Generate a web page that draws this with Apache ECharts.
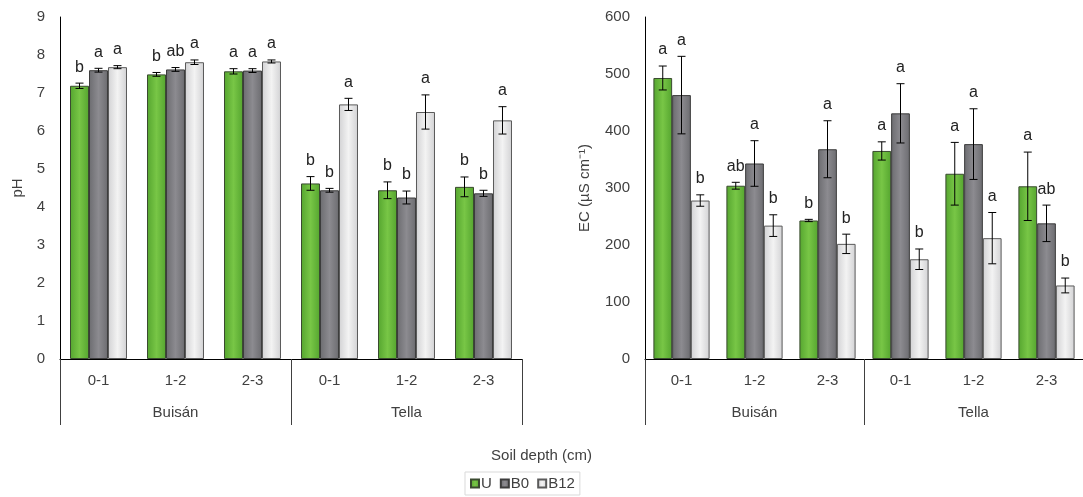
<!DOCTYPE html>
<html>
<head>
<meta charset="utf-8">
<script src="https://cdn.jsdelivr.net/npm/echarts@6/dist/echarts.min.js"></script>
<style>
html,body{margin:0;padding:0;background:#fff;}
#c{width:1083px;height:497px;}
</style>
</head>
<body>
<div id="c"></div>
<script>
// ---- data ----
const depths = ['0-1', '1-2', '2-3', '0-1', '1-2', '2-3'];
const sites = ['Buisán', 'Tella'];
const seriesNames = ['U', 'B0', 'B12'];

// pH
const phU = [7.19, 7.49, 7.57, 4.62, 4.44, 4.53];
const phB0 = [7.60, 7.62, 7.59, 4.44, 4.25, 4.36];
const phB12 = [7.68, 7.81, 7.83, 6.70, 6.50, 6.28];
const phUErr = [0.07, 0.05, 0.07, 0.18, 0.22, 0.26];
const phB0Err = [0.05, 0.05, 0.05, 0.05, 0.17, 0.08];
const phB12Err = [0.04, 0.06, 0.04, 0.16, 0.45, 0.36];
const phULet = ['b', 'b', 'a', 'b', 'b', 'b'];
const phB0Let = ['a', 'ab', 'a', 'b', 'b', 'b'];
const phB12Let = ['a', 'a', 'a', 'a', 'a', 'a'];

// EC
const ecU = [493, 304, 243, 365, 325, 303];
const ecB0 = [463, 343, 368, 431, 377, 238];
const ecB12 = [278, 234, 202, 175, 212, 129];
const ecUErr = [21, 6, 2, 16, 55, 60];
const ecB0Err = [68, 40, 50, 52, 62, 32];
const ecB12Err = [10, 19, 17, 18, 45, 13];
const ecULet = ['a', 'ab', 'b', 'a', 'a', 'a'];
const ecB0Let = ['a', 'a', 'a', 'a', 'a', 'ab'];
const ecB12Let = ['b', 'b', 'b', 'b', 'a', 'b'];

const phTicks = {min: 0, max: 9, interval: 1};
const ecTicks = {min: 0, max: 600, interval: 100};

// ---- styles ----
const FONT = 'Liberation Sans, Arial, sans-serif';
const TXT = '#404040';
function grad(edge, center) {
  return {type: 'linear', x: 0, y: 0, x2: 1, y2: 0,
    colorStops: [{offset: 0, color: edge}, {offset: 0.5, color: center}, {offset: 1, color: edge}]};
}
const fills = [grad('#55a52f', '#78c646'), grad('#6c6c70', '#8c8b90'), grad('#d2d2d4', '#f3f3f3')];
const borders = ['#3a4a30', '#3c3c3c', '#5a5a5a'];

const chart = echarts.init(document.getElementById('c'));

function barSeries(name, idx, values, xi, yi, gap) {
  return {
    type: 'bar', name: name, xAxisIndex: xi, yAxisIndex: yi,
    data: values, barGap: '0%', barCategoryGap: gap,
    itemStyle: {color: fills[idx], borderColor: borders[idx], borderWidth: 1},
    emphasis: {disabled: true}, z: 2
  };
}

function errSeries(name, idx, values, errs, letters, xi, yi, gapRatio) {
  return {
    type: 'custom', name: name + ' err', xAxisIndex: xi, yAxisIndex: yi,
    data: values.map((v, i) => [i, v, errs[i]]),
    z: 5, silent: true,
    renderItem: function (params, api) {
      const i = api.value(0), v = api.value(1), e = api.value(2);
      const band = api.size([1, 0])[0];
      const bw = band * (1 - gapRatio) / 3;
      const x = api.coord([i, v])[0] + (idx - 1) * bw;
      const yt = api.coord([i, v + e])[1];
      const yb = api.coord([i, v - e])[1];
      const cap = 4;
      const ls = {stroke: '#000', lineWidth: 1};
      return {
        type: 'group',
        children: [
          {type: 'line', shape: {x1: x, y1: yt, x2: x, y2: yb}, style: ls},
          {type: 'line', shape: {x1: x - cap, y1: yt, x2: x + cap, y2: yt}, style: ls},
          {type: 'line', shape: {x1: x - cap, y1: yb, x2: x + cap, y2: yb}, style: ls},
          {type: 'text', style: {text: letters[i], x: x, y: yt - 16, align: 'center', verticalAlign: 'middle',
            fontSize: 16, fontFamily: FONT, fill: '#222'}}
        ]
      };
    }
  };
}

function depthAxis(gi) {
  return {
    type: 'category', gridIndex: gi, data: depths, position: 'bottom',
    axisLine: {show: true, lineStyle: {color: '#000', width: 1}},
    axisTick: {show: false},
    axisLabel: {interval: 0, margin: 14, fontSize: 15, fontFamily: FONT, color: TXT}
  };
}
function siteAxis(gi) {
  return {
    type: 'category', gridIndex: gi, data: sites, position: 'bottom', offset: 0,
    axisLine: {show: false},
    axisTick: {show: true, interval: 0, length: 66, lineStyle: {color: '#404040', width: 1}},
    axisLabel: {interval: 0, margin: 46, fontSize: 15, fontFamily: FONT, color: TXT}
  };
}
function valAxis(gi, t, name, gap) {
  return {
    type: 'value', gridIndex: gi, min: t.min, max: t.max, interval: t.interval,
    name: name, nameLocation: 'middle', nameRotate: 90, nameGap: gap,
    nameTextStyle: {fontSize: 15, fontFamily: FONT, color: TXT},
    axisLine: {show: true, lineStyle: {color: '#000', width: 1}},
    axisTick: {show: false}, splitLine: {show: false},
    axisLabel: {margin: 15, fontSize: 15, fontFamily: FONT, color: TXT}
  };
}

const option = {
  animation: false,
  backgroundColor: '#fff',
  title: {text: 'Soil depth (cm)', left: 'center', top: 443,
    textStyle: {fontSize: 15, fontWeight: 'normal', fontFamily: FONT, color: TXT}},
  legend: {
    data: seriesNames, left: 465, top: 472, icon: 'rect',
    itemWidth: 8, itemHeight: 8, itemGap: 8,
    borderColor: '#d9d9d9', borderWidth: 1, padding: [4, 5],
    textStyle: {fontSize: 15, fontFamily: FONT, color: TXT, padding: [0, 0, 0, -3]}
  },
  grid: [
    {left: 60, top: 17, width: 462, height: 342},
    {left: 645, top: 17, width: 442, height: 342}
  ],
  xAxis: [depthAxis(0), siteAxis(0), depthAxis(1), siteAxis(1)],
  yAxis: [valAxis(0, phTicks, 'pH', 35), valAxis(1, ecTicks, 'EC (µS cm⁻¹)', 53)],
  series: [
    barSeries('U', 0, phU, 0, 0, '26%'),
    barSeries('B0', 1, phB0, 0, 0, '26%'),
    barSeries('B12', 2, phB12, 0, 0, '26%'),
    barSeries('U', 0, ecU, 2, 1, '23%'),
    barSeries('B0', 1, ecB0, 2, 1, '23%'),
    barSeries('B12', 2, ecB12, 2, 1, '23%'),
    errSeries('U', 0, phU, phUErr, phULet, 0, 0, 0.26),
    errSeries('B0', 1, phB0, phB0Err, phB0Let, 0, 0, 0.26),
    errSeries('B12', 2, phB12, phB12Err, phB12Let, 0, 0, 0.26),
    errSeries('U', 0, ecU, ecUErr, ecULet, 2, 1, 0.23),
    errSeries('B0', 1, ecB0, ecB0Err, ecB0Let, 2, 1, 0.23),
    errSeries('B12', 2, ecB12, ecB12Err, ecB12Let, 2, 1, 0.23)
  ]
};
chart.setOption(option);
</script>
</body>
</html>
